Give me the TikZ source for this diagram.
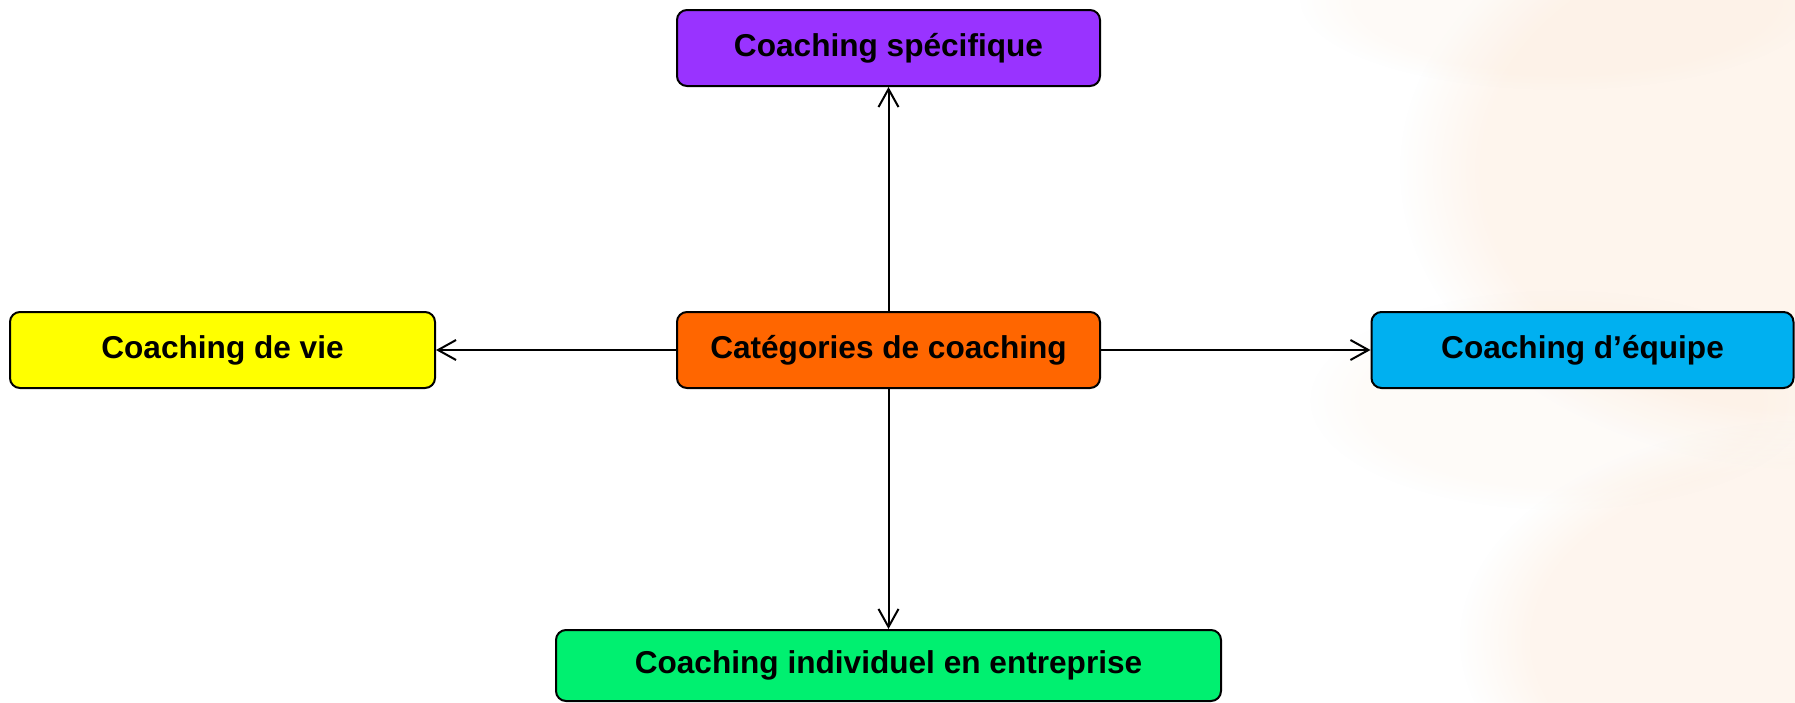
\documentclass[tikz,border=0pt]{standalone}
\usepackage{fontspec}
\setmainfont{Liberation Sans}
\usetikzlibrary{arrows.meta,fadings}
\definecolor{cpurple}{RGB}{153,51,255}
\definecolor{corange}{RGB}{255,102,0}
\definecolor{cyellow}{RGB}{255,255,0}
\definecolor{ccyan}{RGB}{0,176,240}
\definecolor{cgreen}{RGB}{0,240,112}
\definecolor{peach}{RGB}{252,222,196}
\tikzset{
  box/.style={draw=black, line width=1pt, rounded corners=5pt, anchor=center,
    inner sep=0pt, font=\fontsize{15.8pt}{19pt}\selectfont\bfseries, text=black},
  link/.style={draw=black, line width=1pt, -{Straight Barb[length=9pt,width=10pt,line width=1pt]}}
}
\begin{document}
\begin{tikzpicture}[x=0.5pt,y=-0.5pt]
\useasboundingbox (0,0) rectangle (1795,702);
\fill[white] (0,0) rectangle (1795,702);
% faint background blobs
\begin{scope}
\clip (0,0) rectangle (1795,702);
\fill[peach, opacity=0.3, path fading=circle with fuzzy edge 20 percent] (1820,170) ellipse [x radius=420, y radius=300];
\fill[peach, opacity=0.28, path fading=circle with fuzzy edge 20 percent] (1820,640) ellipse [x radius=360, y radius=220];
\fill[peach, opacity=0.12, path fading=circle with fuzzy edge 20 percent] (1560,0) ellipse [x radius=260, y radius=90];
\fill[peach, opacity=0.1, path fading=circle with fuzzy edge 20 percent] (1560,400) ellipse [x radius=250, y radius=110];
\end{scope}
\node[box, fill=cpurple, minimum width=211.5pt, minimum height=38pt] (spec) at (888.5,48) {Coaching spécifique};
\node[box, fill=corange, minimum width=211.5pt, minimum height=38pt] (cat) at (888.5,350) {Catégories de coaching};
\node[box, fill=cyellow, minimum width=212.5pt, minimum height=38pt] (vie) at (222.5,350) {Coaching de vie};
\node[box, fill=ccyan, minimum width=211pt, minimum height=38pt] (equ) at (1582.5,350) {Coaching d’équipe};
\node[box, fill=cgreen, minimum width=332.5pt, minimum height=35.5pt] (ind) at (888.5,665.5) {Coaching individuel en entreprise};
\draw[link] (cat.north) -- (spec.south);
\draw[link] (cat.south) -- (ind.north);
\draw[link] (cat.west) -- (vie.east);
\draw[link] (cat.east) -- (equ.west);
\end{tikzpicture}
\end{document}
